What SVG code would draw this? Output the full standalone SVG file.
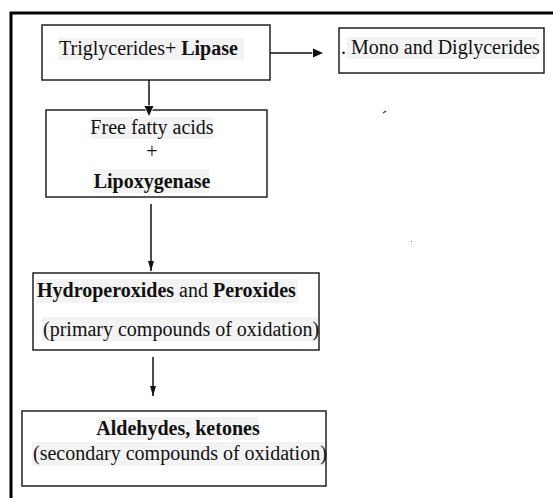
<svg xmlns="http://www.w3.org/2000/svg" width="553" height="498" viewBox="0 0 553 498">
<style>
.box{fill:#fff;stroke:#222;stroke-width:1.5}
.t{font-family:"Liberation Serif","Times New Roman",serif;font-size:20px;fill:#111}
.b{font-weight:bold}
.hl{fill:#f3f3f3}
.c{stroke:#111;stroke-width:1.5;fill:none}
</style>
<defs>
<marker id="ah" markerUnits="userSpaceOnUse" markerWidth="16" markerHeight="16" refX="11" refY="6" orient="auto" viewBox="0 0 16 12">
<path d="M1,1.5 L11,6 L1,10.5 Z" fill="#111" stroke="#fff" stroke-width="1.5" paint-order="stroke"/>
</marker>
<marker id="ahs" markerUnits="userSpaceOnUse" markerWidth="16" markerHeight="16" refX="11" refY="6" orient="auto" viewBox="0 0 16 12">
<path d="M1,3 L11,6 L1,9 Z" fill="#111"/>
</marker>
</defs>
<rect x="0" y="0" width="553" height="498" fill="#fff"/>
<path d="M11,498 V13 H553" fill="none" stroke="#000" stroke-width="3"/>
<g id="n1">
<rect class="box" x="42" y="25" width="228" height="55"/>
<rect class="hl" x="58" y="38" width="186" height="22"/>
<text class="t" x="59" y="55">Triglycerides+ <tspan class="b">Lipase</tspan></text>
</g>
<g id="n2">
<rect class="box" x="339" y="28" width="205" height="45"/>
<rect class="hl" x="347" y="37" width="190" height="22"/>
<text class="t" x="341" y="54">. Mono and Diglycerides</text>
</g>
<g id="n3">
<rect class="box" x="46" y="110" width="221" height="87"/>
<rect class="hl" x="91" y="117" width="122" height="22"/>
<rect class="hl" x="93" y="169" width="116" height="24"/>
<text class="t" x="152" y="134" text-anchor="middle">Free fatty acids</text>
<text class="t" x="152" y="158" text-anchor="middle">+</text>
<text class="t b" x="152" y="188" text-anchor="middle">Lipoxygenase</text>
</g>
<g id="n4">
<rect class="box" x="33" y="273" width="286" height="77"/>
<rect class="hl" x="36" y="279" width="262" height="24"/>
<rect class="hl" x="42" y="317" width="276" height="24"/>
<text class="t" x="37" y="297"><tspan class="b">Hydroperoxides</tspan> and <tspan class="b">Peroxides</tspan></text>
<text class="t" x="43" y="336">(primary compounds of oxidation)</text>
</g>
<g id="n5">
<rect class="box" x="22" y="411" width="304" height="75"/>
<rect class="hl" x="98" y="417" width="160" height="23"/>
<rect class="hl" x="32" y="442" width="293" height="24"/>
<text class="t b" x="178" y="435" text-anchor="middle">Aldehydes, ketones</text>
<text class="t" x="33" y="460">(secondary compounds of oxidation)</text>
</g>
<g id="connectors">
<line class="c" x1="270" y1="53" x2="323" y2="53" marker-end="url(#ah)"/>
<line class="c" x1="149" y1="80" x2="149" y2="116" marker-end="url(#ah)"/>
<line class="c" x1="151" y1="204" x2="151" y2="271" marker-end="url(#ahs)"/>
<line class="c" x1="153" y1="357" x2="153" y2="396" marker-end="url(#ahs)"/>
</g>
<path d="M383,113 L386,111" stroke="#444" stroke-width="1.5"/>
<rect x="411" y="241" width="1" height="1" fill="#666"/>
</svg>
